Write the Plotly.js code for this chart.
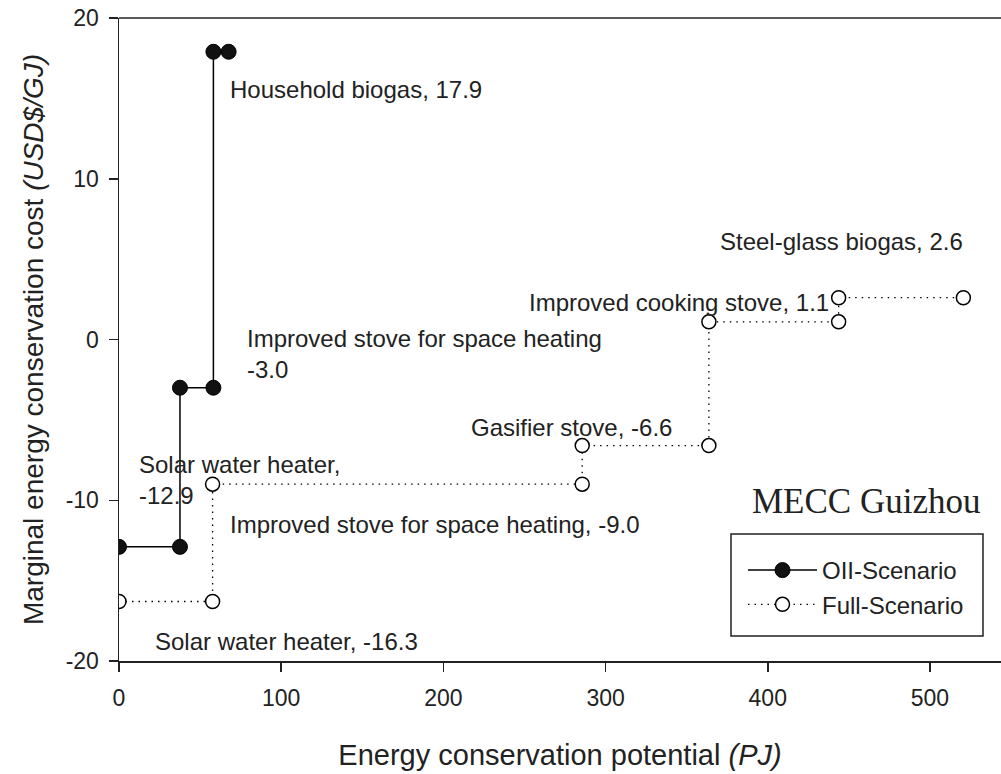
<!DOCTYPE html>
<html>
<head>
<meta charset="utf-8">
<script src="https://cdn.plot.ly/plotly-3.0.1.min.js"></script>
<style>html,body{margin:0;padding:0;background:#fff;}#chart{width:1001px;height:774px;}</style>
</head>
<body>
<div id="chart"></div>
<script>
// Data
const oiiX = [0, 37.6, 37.6, 58.2, 58.2, 67.6];
const oiiY = [-12.9, -12.9, -3.0, -3.0, 17.9, 17.9];
const fullX = [0, 57.7, 57.7, 285.6, 285.6, 363.7, 363.7, 443.7, 443.7, 520.6];
const fullY = [-16.3, -16.3, -9.0, -9.0, -6.6, -6.6, 1.1, 1.1, 2.6, 2.6];
const seriesNames = ['OII-Scenario', 'Full-Scenario'];
const xTicks = [0, 100, 200, 300, 400, 500];
const xTickText = ['0', '100', '200', '300', '400', '500'];
const yTicks = [-20, -10, 0, 10, 20];
const yTickText = ['-20', '-10', '0', '10', '20'];
const labelTexts = [
  'Household biogas, 17.9',
  'Improved stove for space heating<br>-3.0',
  'Solar water heater,<br>-12.9',
  'Improved stove for space heating, -9.0',
  'Solar water heater, -16.3',
  'Gasifier stove, -6.6',
  'Improved cooking stove, 1.1',
  'Steel-glass biogas, 2.6'
];
const labelX = [67.2, 77.7, 10.9, 67.2, 21.2, 215.9, 251.3, 369.3];
const labelY = [15.57, -0.92, -8.72, -11.52, -18.8, -5.46, 2.32, 6.12];

const font = 'Liberation Sans, Arial, sans-serif';

const traces = [
  {
    x: oiiX, y: oiiY, name: seriesNames[0], mode: 'lines+markers', type: 'scatter',
    line: {color: '#000', width: 1.5},
    marker: {symbol: 'circle', size: 15, color: '#111', line: {color: '#000', width: 1}}
  },
  {
    x: fullX, y: fullY, name: seriesNames[1], mode: 'lines+markers', type: 'scatter',
    line: {color: '#000', width: 1.3, dash: '1.5px,5px'},
    marker: {symbol: 'circle', size: 14, color: '#fff', line: {color: '#000', width: 1.5}}
  }
];

const annotations = labelTexts.map((t, i) => ({
  x: labelX[i], y: labelY[i], xref: 'x', yref: 'y', text: t, showarrow: false,
  xanchor: 'left', yanchor: 'middle', align: 'left',
  font: {family: font, size: 24, color: '#222'}
}));
annotations.push({
  x: 531.9, y: -10.1, xref: 'x', yref: 'y', text: 'MECC Guizhou', showarrow: false,
  xanchor: 'right', yanchor: 'middle',
  font: {family: 'Liberation Serif, Times New Roman, serif', size: 35, color: '#222'}
});

const layout = {
  width: 1001, height: 774,
  margin: {l: 119, r: 0, t: 18, b: 113},
  paper_bgcolor: '#fff', plot_bgcolor: '#fff',
  showlegend: true,
  legend: {
    x: (743 - 119) / 882, xanchor: 'left', y: (661 - 548) / 643, yanchor: 'top',
    bgcolor: 'rgba(0,0,0,0)', borderwidth: 0,
    font: {family: font, size: 24, color: '#222'},
    itemwidth: 69, tracegroupgap: 0
  },
  xaxis: {
    range: [0, 543.8], tickmode: 'array', tickvals: xTicks, ticktext: xTickText,
    ticks: 'outside', ticklen: 9, tickwidth: 1.5,
    tickcolor: '#222', showline: true, linecolor: '#222', linewidth: 1.5,
    showgrid: false, zeroline: false, ticklabelstandoff: 7,
    tickfont: {family: font, size: 23, color: '#222'},
    title: {text: 'Energy conservation potential <i>(PJ)</i>', font: {family: font, size: 29, color: '#222'}, standoff: 34}
  },
  yaxis: {
    range: [-20, 20], tickmode: 'array', tickvals: yTicks, ticktext: yTickText,
    ticks: 'outside', ticklen: 9, tickwidth: 1.5,
    tickcolor: '#222', showline: true, linecolor: '#222', linewidth: 1.5,
    showgrid: false, zeroline: false, ticklabelstandoff: 5,
    tickfont: {family: font, size: 23, color: '#222'},
    title: {text: 'Marginal energy conservation cost <i>(USD$/GJ)</i>', font: {family: font, size: 28, color: '#222'}, standoff: 14}
  },
  shapes: [
    {type: 'line', xref: 'paper', yref: 'paper', x0: 0, x1: 1, y0: 1, y1: 1, line: {color: '#222', width: 1.5}},
    {type: 'rect', xref: 'paper', yref: 'paper', x0: (731-119)/882, x1: (983-119)/882, y0: (661-636)/643, y1: (661-534)/643, line: {color: '#222', width: 1.5}}
  ],
  annotations: annotations
};

Plotly.newPlot('chart', traces, layout, {displayModeBar: false, staticPlot: true});
</script>
</body>
</html>
